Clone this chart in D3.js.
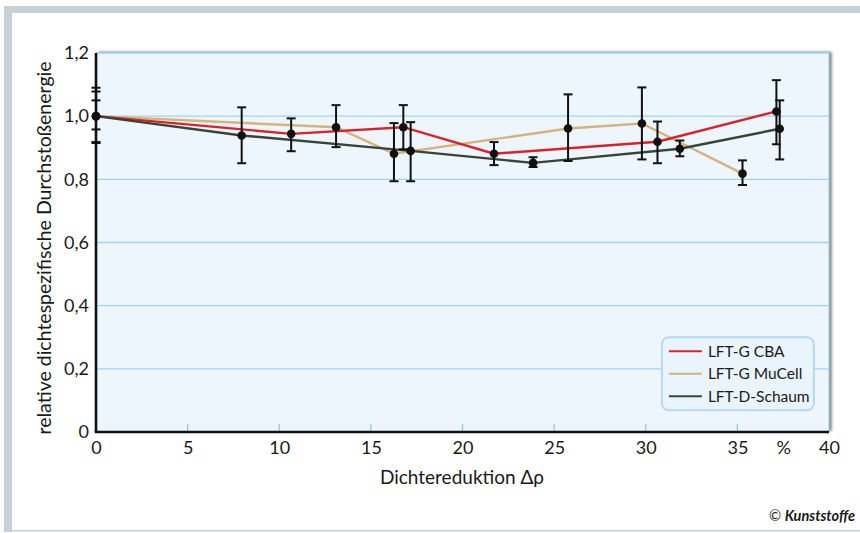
<!DOCTYPE html>
<html>
<head>
<meta charset="utf-8">
<script src="https://cdn.jsdelivr.net/npm/d3@7"></script>
<style>
  body { margin: 0; background: #fff; }
  svg text { font-family: Lato, "Open Sans", sans-serif; fill: #1a1a1a; }
</style>
</head>
<body>
<div class="chart"></div>
<script>
// values
const seriesNames = ["LFT-G CBA", "LFT-G MuCell", "LFT-D-Schaum"];
const seriesColors = ["#d9232a", "#d6b27c", "#38433a"];

const cbaX = [0, 10.65, 16.77, 21.72, 30.64, 37.13];
const cbaY = [1.0, 0.944, 0.965, 0.881, 0.919, 1.015];
const cbaHi = [1.09, 0.993, 1.035, 0.918, 0.983, 1.114];
const cbaLo = [0.915, 0.889, 0.895, 0.845, 0.851, 0.911];

const mucellX = [0, 13.1, 16.26, 25.76, 29.79, 35.28];
const mucellY = [1.0, 0.965, 0.881, 0.961, 0.977, 0.818];
const mucellHi = [1.078, 1.035, 0.978, 1.069, 1.091, 0.86];
const mucellLo = [0.918, 0.902, 0.794, 0.858, 0.863, 0.782];

const schaumX = [0, 7.95, 17.17, 23.85, 31.86, 37.31];
const schaumY = [1.0, 0.939, 0.89, 0.852, 0.897, 0.96];
const schaumHi = [1.05, 1.028, 0.981, 0.87, 0.923, 1.05];
const schaumLo = [0.958, 0.851, 0.794, 0.839, 0.873, 0.863];

const xTicks = [0, 5, 10, 15, 20, 25, 30, 35, 40];
const yTicks = [0, 0.2, 0.4, 0.6, 0.8, 1.0, 1.2];
const xTitle = "Dichtereduktion Δρ";
const yTitle = "relative dichtespezifische Durchstoßenergie";

function pack(xs, ys, hi, lo) {
  return xs.map((x, i) => ({ x: x, y: ys[i], hi: hi[i], lo: lo[i] }));
}
const series = [
  { name: seriesNames[0], color: seriesColors[0], values: pack(cbaX, cbaY, cbaHi, cbaLo) },
  { name: seriesNames[1], color: seriesColors[1], values: pack(mucellX, mucellY, mucellHi, mucellLo) },
  { name: seriesNames[2], color: seriesColors[2], values: pack(schaumX, schaumY, schaumHi, schaumLo) },
];

const svgWidth = 860;
const svgHeight = 533;
const margin = { top: 53, right: 31, bottom: 101, left: 96 };
const width = svgWidth - margin.left - margin.right;
const height = svgHeight - margin.top - margin.bottom;

const root = d3
  .select(".chart")
  .append("svg")
  .attr("width", svgWidth)
  .attr("height", svgHeight);

const defs = root.append("defs");
defs
  .append("filter")
  .attr("id", "shadow")
  .attr("x", "-5%")
  .attr("y", "-5%")
  .attr("width", "110%")
  .attr("height", "110%")
  .append("feDropShadow")
  .attr("dx", 2.5)
  .attr("dy", -1)
  .attr("stdDeviation", 1.8)
  .attr("flood-color", "#000")
  .attr("flood-opacity", 0.55);

// grey frame
root.append("rect").attr("x", 4).attr("y", 6).attr("width", 856).attr("height", 7).attr("fill", "#c7cfd7");
root.append("rect").attr("x", 4).attr("y", 6).attr("width", 8).attr("height", 526).attr("fill", "#c7cfd7");
root.append("rect").attr("x", 4).attr("y", 530).attr("width", 856).attr("height", 1.5).attr("fill", "#c7cfd7");

const svg = root.append("g").attr("transform", `translate(${margin.left},${margin.top})`);

const x = d3.scaleLinear().domain([0, 40]).range([0, width]);
const y = d3.scaleLinear().domain([0, 1.2]).range([height, 0]);

svg
  .append("rect")
  .attr("width", width)
  .attr("height", height)
  .attr("fill", "#eef6fd")
  .attr("filter", "url(#shadow)");

// grid
svg
  .selectAll(".grid")
  .data(yTicks.slice(1))
  .enter()
  .append("line")
  .attr("x1", 0)
  .attr("x2", width)
  .attr("y1", (d) => y(d))
  .attr("y2", (d) => y(d))
  .attr("stroke", "#9fd4ec")
  .attr("stroke-width", 1.3);
svg
  .append("line")
  .attr("x1", width)
  .attr("x2", width)
  .attr("y1", 0)
  .attr("y2", height)
  .attr("stroke", "#9fd4ec")
  .attr("stroke-width", 1.3);

// small blue ticks along the bottom
svg
  .selectAll(".xtick")
  .data(xTicks.slice(1, -1))
  .enter()
  .append("line")
  .attr("x1", (d) => x(d))
  .attr("x2", (d) => x(d))
  .attr("y1", height)
  .attr("y2", height - 8)
  .attr("stroke", "#8fcbe8")
  .attr("stroke-width", 1.3);

// legend
const legend = svg.append("g").attr("transform", `translate(${x(30.88)},${y(0.3)})`);
legend
  .append("rect")
  .attr("x", 0)
  .attr("y", 0)
  .attr("width", 152)
  .attr("height", 73)
  .attr("rx", 7)
  .attr("fill", "#eaf4fd")
  .attr("stroke", "#b6d9f2")
  .attr("stroke-width", 2);
series.forEach((s, i) => {
  const ly = 14 + i * 22.5;
  legend.append("line").attr("x1", 7).attr("x2", 40).attr("y1", ly).attr("y2", ly).attr("stroke", s.color).attr("stroke-width", 2.2);
  legend.append("text").attr("x", 46).attr("y", ly).attr("dy", "0.36em").attr("font-size", 15.5).text(s.name);
});

// lines
const line = d3
  .line()
  .x((d) => x(d.x))
  .y((d) => y(d.y));
[1, 0, 2].forEach((i) => {
  svg
    .append("path")
    .datum(series[i].values)
    .attr("fill", "none")
    .attr("stroke", series[i].color)
    .attr("stroke-width", 2.4)
    .attr("d", line);
});

// axes
svg.append("line").attr("x1", 0).attr("x2", 0).attr("y1", 0).attr("y2", height).attr("stroke", "#111").attr("stroke-width", 2.6);
svg.append("line").attr("x1", -1.3).attr("x2", width).attr("y1", height).attr("y2", height).attr("stroke", "#111").attr("stroke-width", 2.6);

// error bars + markers
series.forEach((s) => {
  const g = svg.append("g");
  s.values.forEach((d) => {
    const cx = x(d.x);
    g.append("line").attr("x1", cx).attr("x2", cx).attr("y1", y(d.hi)).attr("y2", y(d.lo)).attr("stroke", "#111").attr("stroke-width", 2);
    [d.hi, d.lo].forEach((v) => {
      g.append("line").attr("x1", cx - 4.5).attr("x2", cx + 4.5).attr("y1", y(v)).attr("y2", y(v)).attr("stroke", "#111").attr("stroke-width", 2);
    });
    g.append("circle").attr("cx", cx).attr("cy", y(d.y)).attr("r", 4.3).attr("fill", "#111");
  });
});

// tick labels
const xAxis = svg
  .append("g")
  .attr("transform", `translate(0,${height})`)
  .call(
    d3
      .axisBottom(x)
      .tickValues(xTicks.concat([37.5]))
      .tickFormat((d) => (d === 37.5 ? "%" : d))
      .tickSize(0)
      .tickPadding(9)
  );
xAxis.select(".domain").remove();
xAxis.selectAll("text").attr("font-size", 18).attr("font-family", "Lato, sans-serif").attr("fill", "#1a1a1a");

const yAxis = svg.append("g").call(
  d3
    .axisLeft(y)
    .tickValues(yTicks)
    .tickFormat((d) => (d === 0 ? "0" : d3.format(".1f")(d).replace(".", ",")))
    .tickSize(0)
    .tickPadding(7)
);
yAxis.select(".domain").remove();
yAxis.selectAll("text").attr("font-size", 18).attr("font-family", "Lato, sans-serif").attr("fill", "#1a1a1a");

// titles
root
  .append("text")
  .attr("x", 462)
  .attr("y", 484)
  .attr("text-anchor", "middle")
  .attr("font-size", 19)
  .text(xTitle);
root
  .append("text")
  .attr("transform", "translate(51,248) rotate(-90)")
  .attr("text-anchor", "middle")
  .attr("font-size", 19.5)
  .text(yTitle);

// source
const src = root.append("text").attr("x", 855).attr("y", 521).attr("text-anchor", "end").attr("font-size", 14.5);
src.append("tspan").text("© ");
src.append("tspan").attr("font-weight", "bold").attr("font-style", "italic").text("Kunststoffe");
</script>
</body>
</html>
